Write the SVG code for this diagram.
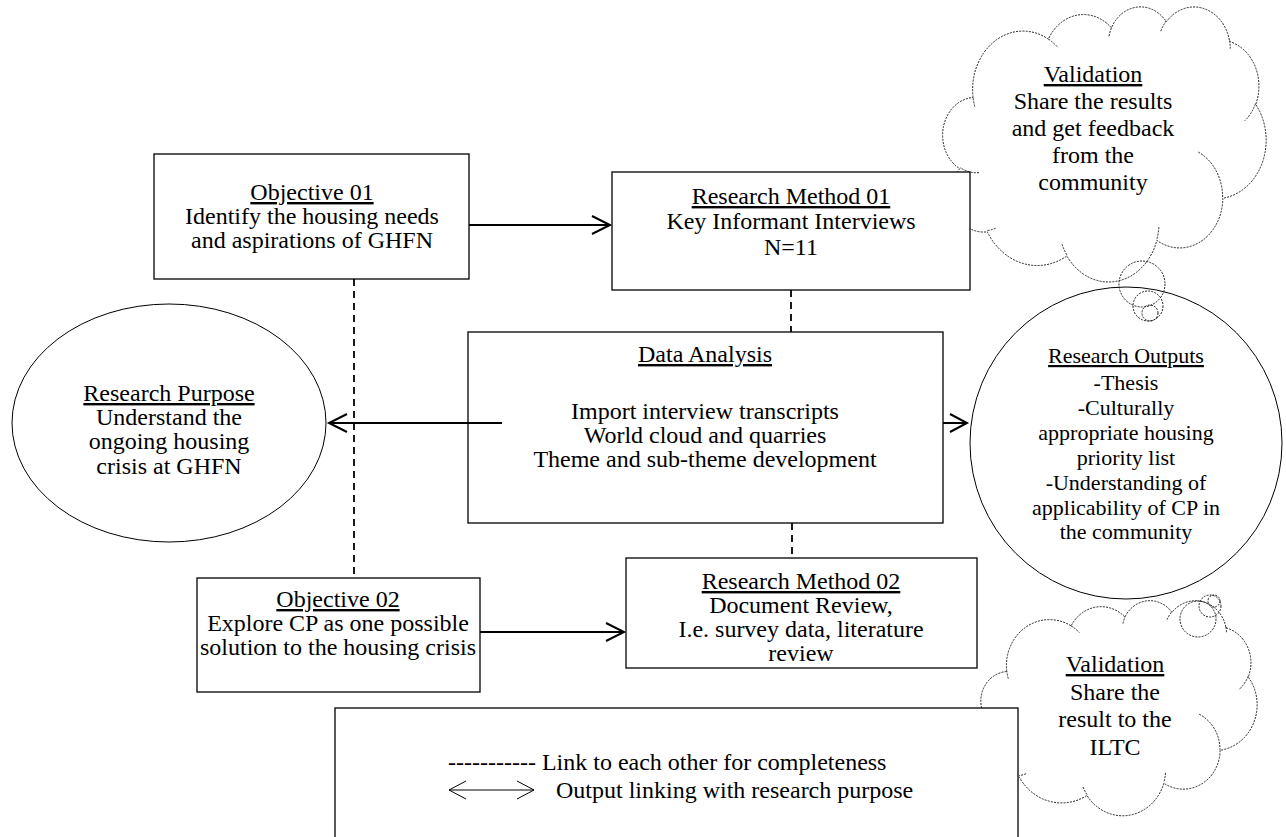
<svg xmlns="http://www.w3.org/2000/svg" width="1286" height="837" viewBox="0 0 1286 837">
<style>
.t{font-family:"Liberation Serif","Times New Roman",serif;font-size:24px;fill:#000;text-anchor:middle}
.s{font-size:22px}
.u{text-decoration:underline}
.box{fill:#fff;stroke:#000;stroke-width:1.3}
.cl{fill:#fff;stroke:#222;stroke-width:1;stroke-dasharray:2 1.2}
.cli{fill:none;stroke:#222;stroke-width:1;stroke-dasharray:2 1.2}
.bub{fill:none;stroke:#222;stroke-width:1;stroke-dasharray:2 1.2}
.ar{fill:none;stroke:#000;stroke-width:2}
.dl{fill:none;stroke:#000;stroke-width:1.8;stroke-dasharray:7 5}
</style>

<g id="validation-top">
<g transform="translate(944,6) scale(0.0074537,0.0063657)">
<path class="cl" vector-effect="non-scaling-stroke" d="M3900 14370A6753 9190 0 0 1 14005 5202A5333 7267 0 0 1 22457 3431A4365 5945 0 0 1 29835 2480A4857 6595 0 0 1 38319 5576A5333 7273 0 0 1 41820 15459A6775 9220 0 0 1 37405 30201A5785 7867 0 0 1 28556 36812A6752 9215 0 0 1 16482 39265A7720 10543 0 0 1 5806 35470A4360 5918 0 0 1 2114 25548A4345 5945 0 0 1 3900 14370Z"/>
<path class="cli" vector-effect="non-scaling-stroke" d="M4693 26177A4345 5945 0 0 1 2160 25380M6928 34899A4360 5918 0 0 1 5820 35280M16478 39090A6752 9215 0 0 1 15809 37347M28827 34751A6752 9215 0 0 1 28560 36660M34129 22954A5785 7867 0 0 1 37380 30090M41798 15354A5333 7273 0 0 1 40350 18031M38324 5426A4857 6595 0 0 1 38401 6690M29078 3952A4857 6595 0 0 1 29821 2338M22141 4720A4365 5945 0 0 1 22500 3331M14000 5192A6753 9190 0 0 1 15300 6541M4127 15789A6753 9190 0 0 1 3900 14371"/>
</g>
<text class="t"><tspan x="1093" y="82" class="u">Validation</tspan><tspan x="1093" y="109">Share the results</tspan><tspan x="1093" y="136">and get feedback</tspan><tspan x="1093" y="163">from the</tspan><tspan x="1093" y="190">community</tspan></text>
</g>

<g id="validation-bottom">
<g transform="translate(982,600) scale(0.0063657,0.0049769)">
<path class="cl" vector-effect="non-scaling-stroke" d="M3900 14370A6753 9190 0 0 1 14005 5202A5333 7267 0 0 1 22457 3431A4365 5945 0 0 1 29835 2480A4857 6595 0 0 1 38319 5576A5333 7273 0 0 1 41820 15459A6775 9220 0 0 1 37405 30201A5785 7867 0 0 1 28556 36812A6752 9215 0 0 1 16482 39265A7720 10543 0 0 1 5806 35470A4360 5918 0 0 1 2114 25548A4345 5945 0 0 1 3900 14370Z"/>
<path class="cli" vector-effect="non-scaling-stroke" d="M4693 26177A4345 5945 0 0 1 2160 25380M6928 34899A4360 5918 0 0 1 5820 35280M16478 39090A6752 9215 0 0 1 15809 37347M28827 34751A6752 9215 0 0 1 28560 36660M34129 22954A5785 7867 0 0 1 37380 30090M41798 15354A5333 7273 0 0 1 40350 18031M38324 5426A4857 6595 0 0 1 38401 6690M29078 3952A4857 6595 0 0 1 29821 2338M22141 4720A4365 5945 0 0 1 22500 3331M14000 5192A6753 9190 0 0 1 15300 6541M4127 15789A6753 9190 0 0 1 3900 14371"/>
</g>
<text class="t"><tspan x="1115" y="672" class="u">Validation</tspan><tspan x="1115" y="700">Share the</tspan><tspan x="1115" y="727">result to the</tspan><tspan x="1115" y="755">ILTC</tspan></text>
</g>

<g id="objective-01">
<rect class="box" x="154" y="154" width="315" height="125"/>
<text class="t"><tspan x="312" y="200" class="u">Objective 01</tspan><tspan x="312" y="224">Identify the housing needs</tspan><tspan x="312" y="248">and aspirations of GHFN</tspan></text>
</g>

<g id="research-method-01">
<rect class="box" x="612" y="172" width="358" height="118"/>
<text class="t"><tspan x="791" y="204" class="u">Research Method 01</tspan><tspan x="791" y="229">Key Informant Interviews</tspan><tspan x="791" y="255">N=11</tspan></text>
</g>

<g id="data-analysis">
<rect class="box" x="468" y="332" width="475" height="191"/>
<text class="t"><tspan x="705" y="362" class="u">Data Analysis</tspan><tspan x="705" y="419">Import interview transcripts</tspan><tspan x="705" y="443">World cloud and quarries</tspan><tspan x="705" y="467">Theme and sub-theme development</tspan></text>
</g>

<g id="research-purpose">
<ellipse cx="169" cy="423" rx="157" ry="119" fill="#fff" stroke="#000" stroke-width="1"/>
<text class="t"><tspan x="169" y="401" class="u">Research Purpose</tspan><tspan x="169" y="425">Understand the</tspan><tspan x="169" y="449">ongoing housing</tspan><tspan x="169" y="474">crisis at GHFN</tspan></text>
</g>

<g id="research-outputs">
<circle cx="1126" cy="443" r="156" fill="#fff" stroke="#000" stroke-width="1"/>
<text class="t s"><tspan x="1126" y="363" class="u">Research Outputs</tspan><tspan x="1126" y="390">-Thesis</tspan><tspan x="1126" y="415">-Culturally</tspan><tspan x="1126" y="440">appropriate housing</tspan><tspan x="1126" y="465">priority list</tspan><tspan x="1126" y="490">-Understanding of</tspan><tspan x="1126" y="515">applicability of CP in</tspan><tspan x="1126" y="539">the community</tspan></text>
</g>

<g id="bubbles">
<circle class="bub" cx="1142" cy="284" r="23"/>
<circle class="bub" cx="1148" cy="306" r="15"/>
<circle class="bub" cx="1150" cy="313" r="8"/>
<circle class="bub" cx="1198" cy="619" r="18"/>
<circle class="bub" cx="1210" cy="606" r="11"/>
<circle class="bub" cx="1214" cy="601" r="6"/>
</g>

<g id="objective-02">
<rect class="box" x="197" y="578" width="283" height="114"/>
<text class="t"><tspan x="338" y="607" class="u">Objective 02</tspan><tspan x="338" y="631">Explore CP as one possible</tspan><tspan x="338" y="655">solution to the housing crisis</tspan></text>
</g>

<g id="research-method-02">
<rect class="box" x="626" y="558" width="351" height="110"/>
<text class="t"><tspan x="801" y="589" class="u">Research Method 02</tspan><tspan x="801" y="613">Document Review,</tspan><tspan x="801" y="637">I.e. survey data, literature</tspan><tspan x="801" y="661">review</tspan></text>
</g>

<g id="legend">
<rect class="box" x="335" y="708" width="683" height="140"/>
<text class="t" style="text-anchor:start"><tspan x="448" y="770">----------- Link to each other for completeness</tspan><tspan x="556" y="798">Output linking with research purpose</tspan></text>
<g fill="none" stroke="#000" stroke-width="1">
<line x1="449" y1="790" x2="534" y2="790"/>
<polyline points="466,781 449,790 466,799"/>
<polyline points="517,781 534,790 517,799"/>
</g>
</g>

<g id="connectors">
<line class="dl" x1="354" y1="279" x2="354" y2="578"/>
<line class="dl" x1="791" y1="290" x2="791" y2="332"/>
<line class="dl" x1="792" y1="523" x2="792" y2="558"/>
<line class="ar" x1="469" y1="225" x2="610" y2="225"/>
<polyline class="ar" points="592,216 610,225 592,234"/>
<line class="ar" x1="502" y1="423" x2="329" y2="423"/>
<polyline class="ar" points="347,414 329,423 347,432"/>
<line class="ar" x1="943" y1="423" x2="967" y2="423"/>
<polyline class="ar" points="950,414 967,423 950,432"/>
<line class="ar" x1="480" y1="632" x2="624" y2="632"/>
<polyline class="ar" points="606,623 624,632 606,641"/>
</g>
</svg>
